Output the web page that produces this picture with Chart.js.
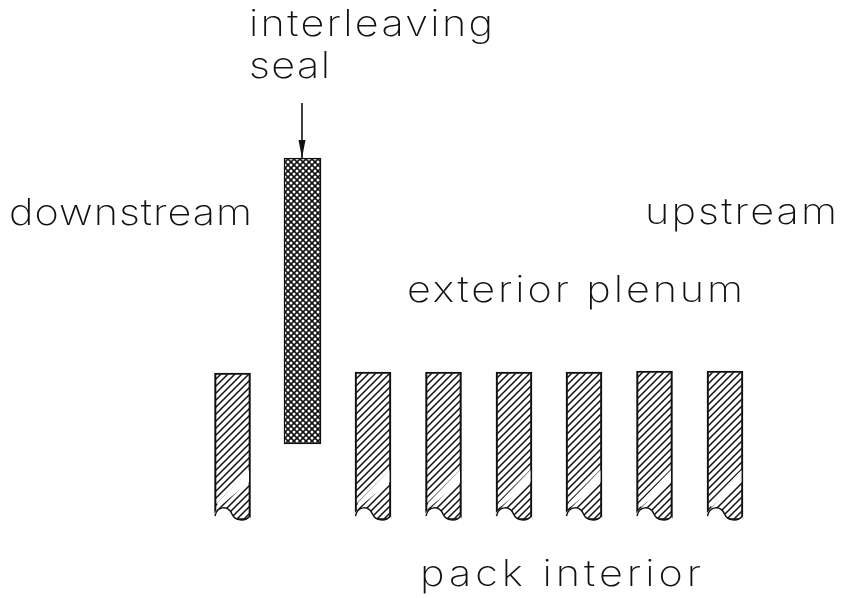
<!DOCTYPE html>
<html>
<head>
<meta charset="utf-8">
<style>
  html, body { margin: 0; padding: 0; background: #fff; }
  #wrap { width: 841px; height: 598px; }
</style>
<script src="https://cdn.jsdelivr.net/npm/chart.js@4"></script>
</head>
<body>
<div id="wrap"><canvas id="seal"></canvas></div>
<script>
var plateX = [232.5, 373, 443.5, 514, 584, 654.5, 725];
var plateTop = [373, 372, 372, 372, 372, 371, 371];
var plateBottom = [520, 520, 520, 520, 520, 520, 520];
var sealX = [302.5];
var sealTop = [158];
var sealBottom = [444];
var arrowX = [302, 302];
var arrowY = [103, 158];

var labels = ["interleaving", "seal", "downstream", "upstream", "exterior plenum", "pack interior"];
var labelX = [249, 249, 9, 645, 407, 420];
var labelY = [36, 78, 225, 224, 302, 586];
var labelWidth = [244, 81, 243, 192, 336, 281];

var ink = "#111";
var labelFont = '200 36px "Inter", "Lato", sans-serif';
var stretch = 1.15;

function hatch() {
  var c = document.createElement("canvas");
  c.width = 7; c.height = 7;
  var g = c.getContext("2d");
  g.strokeStyle = ink;
  g.lineWidth = 1.5;
  g.beginPath();
  g.moveTo(-1, 1); g.lineTo(1, -1);
  g.moveTo(-1, 8); g.lineTo(8, -1);
  g.moveTo(6, 8); g.lineTo(8, 6);
  g.stroke();
  return g.createPattern(c, "repeat");
}

function crossHatch() {
  var c = document.createElement("canvas");
  c.width = 6; c.height = 6;
  var g = c.getContext("2d");
  g.fillStyle = "#111";
  g.fillRect(0, 0, 6, 6);
  g.fillStyle = "#fff";
  [[0, 0], [6, 0], [0, 6], [6, 6], [3, 3]].forEach(function (p) {
    g.beginPath();
    g.arc(p[0], p[1], 1.5, 0, Math.PI * 2);
    g.fill();
  });
  return g.createPattern(c, "repeat");
}

// white break band and the wavy torn end of each plate
var tornEnds = {
  id: "tornEnds",
  afterDatasetsDraw: function (chart) {
    var ctx = chart.ctx;
    var xs = chart.scales.x, ys = chart.scales.y;
    ctx.save();
    plateX.forEach(function (v, i) {
      var l = xs.getPixelForValue(v) - 17.5;
      var r = xs.getPixelForValue(v) + 17.5;
      var b = ys.getPixelForValue(plateBottom[i]);
      ctx.fillStyle = "#fff";
      // break band
      ctx.beginPath();
      ctx.moveTo(l + 2, b - 17);
      ctx.lineTo(r - 1, b - 50);
      ctx.lineTo(r - 1, b - 38);
      ctx.lineTo(l + 4, b - 13);
      ctx.closePath();
      ctx.fill();
      // torn end
      ctx.beginPath();
      ctx.moveTo(l - 2, b - 4);
      ctx.bezierCurveTo(l + 2, b - 14, l + 13, b - 15, l + 17, b - 6);
      ctx.bezierCurveTo(l + 20, b + 1, r - 5, b + 2, r, b - 4);
      ctx.lineTo(r + 2, b + 3);
      ctx.lineTo(l - 2, b + 3);
      ctx.closePath();
      ctx.fill();
      ctx.strokeStyle = ink;
      ctx.lineWidth = 1.5;
      ctx.beginPath();
      ctx.moveTo(l, b - 4);
      ctx.bezierCurveTo(l + 2, b - 14, l + 13, b - 15, l + 17, b - 6);
      ctx.bezierCurveTo(l + 20, b + 1, r - 5, b + 2, r, b - 4);
      ctx.stroke();
    });
    ctx.restore();
  }
};

// arrow head and the lettering
var notes = {
  id: "notes",
  afterDraw: function (chart) {
    var ctx = chart.ctx;
    var xs = chart.scales.x, ys = chart.scales.y;
    var ax = xs.getPixelForValue(arrowX[1]);
    var ay = ys.getPixelForValue(arrowY[1]);
    ctx.save();
    ctx.fillStyle = ink;
    ctx.beginPath();
    ctx.moveTo(ax, ay);
    ctx.lineTo(ax - 3.5, ay - 18);
    ctx.lineTo(ax + 3.5, ay - 18);
    ctx.closePath();
    ctx.fill();

    ctx.font = labelFont;
    ctx.textBaseline = "alphabetic";
    labels.forEach(function (t, i) {
      ctx.letterSpacing = "0px";
      var w = ctx.measureText(t).width;
      var sp = (labelWidth[i] / stretch - w) / (t.length - 1);
      ctx.letterSpacing = sp + "px";
      ctx.save();
      ctx.translate(xs.getPixelForValue(labelX[i]), ys.getPixelForValue(labelY[i]));
      ctx.scale(stretch, 1);
      ctx.fillText(t, 0, 0);
      ctx.restore();
    });
    ctx.restore();
  }
};

new Chart(document.getElementById("seal"), {
  type: "bar",
  data: {
    datasets: [
      {
        label: "plates",
        data: plateX.map(function (x, i) { return { x: x, y: [plateTop[i], plateBottom[i]] }; }),
        backgroundColor: hatch(),
        borderColor: ink,
        borderWidth: 1.5,
        borderSkipped: false,
        barThickness: 36,
        grouped: false
      },
      {
        label: "interleaving seal",
        data: sealX.map(function (x, i) { return { x: x, y: [sealTop[i], sealBottom[i]] }; }),
        backgroundColor: crossHatch(),
        borderColor: "#111",
        borderWidth: 1.5,
        borderSkipped: false,
        barThickness: 37,
        grouped: false
      },
      {
        type: "line",
        label: "arrow",
        data: arrowX.map(function (x, i) { return { x: x, y: arrowY[i] }; }),
        borderColor: ink,
        borderWidth: 1.6,
        pointRadius: 0
      }
    ]
  },
  options: {
    responsive: true,
    maintainAspectRatio: false,
    animation: false,
    layout: { padding: 0 },
    plugins: { legend: { display: false }, tooltip: { enabled: false } },
    scales: {
      x: { type: "linear", min: 0, max: 841, offset: false, display: false },
      y: { min: 0, max: 598, reverse: true, display: false }
    }
  },
  plugins: [tornEnds, notes]
});
</script>
</body>
</html>
